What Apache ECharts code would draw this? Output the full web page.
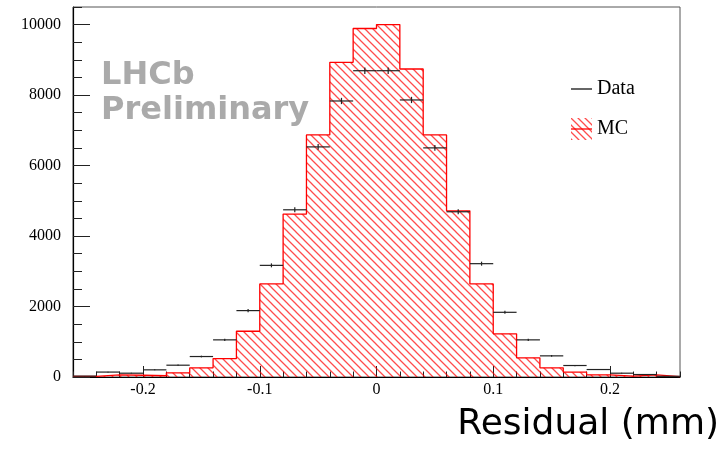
<!DOCTYPE html>
<html>
<head>
<meta charset="utf-8">
<script src="https://cdn.jsdelivr.net/npm/echarts@6.0.0/dist/echarts.min.js"></script>
<style>
  html, body { margin: 0; padding: 0; background: #fff; }
  #chart-container { width: 725px; height: 457px; }
</style>
</head>
<body>
<div id="chart-container"></div>
<script>
// bin lower edges (mm), bin width 0.02
var binLow = [-0.26, -0.24, -0.22, -0.20, -0.18, -0.16, -0.14, -0.12, -0.10, -0.08, -0.06, -0.04, -0.02,
              0.00, 0.02, 0.04, 0.06, 0.08, 0.10, 0.12, 0.14, 0.16, 0.18, 0.20, 0.22, 0.24];
var binWidth = 0.02;
var mcCounts = [15, 60, 50, 35, 118, 260, 524, 1298, 2640, 4624, 6870, 8930, 9890,
                10000, 8740, 6870, 4717, 2640, 1224, 544, 260, 136, 62, 25, 60, 10];
var dataCounts = [25, 140, 108, 203, 335, 581, 1054, 1884, 3168, 4745, 6530, 7833, 8692,
                  8692, 7862, 6502, 4689, 3216, 1836, 1054, 600, 326, 212, 108, 70, 20];
var dataErrors = [5, 12, 10, 14, 18, 24, 32, 43, 56, 69, 81, 89, 93,
                  93, 89, 81, 68, 57, 43, 32, 24, 18, 15, 10, 8, 4];
var xMajorTicks = [-0.2, -0.1, 0, 0.1, 0.2];
var yMajorTicks = [0, 2000, 4000, 6000, 8000, 10000];

var dom = document.getElementById('chart-container');
var myChart = echarts.init(dom, null, { renderer: 'canvas' });

// hatch pattern for the MC fill
function makeHatch(size) {
    var c = document.createElement('canvas');
    c.width = size; c.height = size;
    var ctx = c.getContext('2d');
    ctx.strokeStyle = 'rgba(255,0,0,0.7)';
    ctx.lineWidth = 1.3;
    ctx.beginPath();
    ctx.moveTo(-1, -1); ctx.lineTo(size + 1, size + 1);
    ctx.moveTo(-1, size - 1); ctx.lineTo(1, size + 1);
    ctx.moveTo(size - 1, -1); ctx.lineTo(size + 1, 1);
    ctx.stroke();
    return c;
}

// legend icons
function makeMcIcon() {
    var c = document.createElement('canvas');
    c.width = 21; c.height = 22;
    var ctx = c.getContext('2d');
    ctx.fillStyle = ctx.createPattern(makeHatch(7), 'repeat');
    ctx.fillRect(0, 0, 21, 22);
    ctx.strokeStyle = '#ff0000';
    ctx.lineWidth = 1.3;
    ctx.beginPath(); ctx.moveTo(0, 11); ctx.lineTo(21, 11); ctx.stroke();
    return c.toDataURL();
}
function makeDataIcon() {
    var c = document.createElement('canvas');
    c.width = 21; c.height = 22;
    var ctx = c.getContext('2d');
    ctx.strokeStyle = '#000';
    ctx.lineWidth = 1.2;
    ctx.beginPath(); ctx.moveTo(0, 11); ctx.lineTo(21, 11); ctx.stroke();
    return c.toDataURL();
}

var mcLine = binLow.map(function (x, i) { return [x, mcCounts[i]]; });
mcLine.push([binLow[binLow.length - 1] + binWidth, mcCounts[mcCounts.length - 1]]);

var dataPoints = binLow.map(function (x, i) {
    return [x, x + binWidth, dataCounts[i], dataErrors[i]];
});

var serif = 'Liberation Serif';
var tickColor = '#222';

var option = {
    animation: false,
    title: [
        {
            text: 'LHCb\nPreliminary',
            left: 101, top: 58, padding: 0,
            textStyle: { fontFamily: 'DejaVu Sans', fontWeight: 'bold', fontSize: 32, lineHeight: 35, color: '#aaaaaa' }
        },
        {
            text: 'Residual (mm)',
            right: 6, top: 405, padding: 0,
            textStyle: { fontFamily: 'DejaVu Sans', fontWeight: 'normal', fontSize: 36, lineHeight: 40, color: '#000' }
        }
    ],
    legend: {
        orient: 'vertical',
        left: 571, top: 78, padding: 0,
        itemWidth: 21, itemHeight: 22, itemGap: 18,
        selectedMode: false,
        textStyle: { fontFamily: serif, fontSize: 20, color: '#000' },
        data: [
            { name: 'Data', icon: 'image://' + makeDataIcon() },
            { name: 'MC', icon: 'image://' + makeMcIcon() }
        ]
    },
    grid: {
        left: 73, right: 45, top: 7, bottom: 80,
        show: true, borderColor: '#555', borderWidth: 1
    },
    xAxis: [
        {
            type: 'value', min: -0.26, max: 0.26,
            axisLine: { onZero: false, lineStyle: { color: '#000', width: 1.2 } },
            axisTick: { inside: true, length: 11, customValues: xMajorTicks, lineStyle: { color: tickColor } },
            axisLabel: {
                customValues: xMajorTicks, margin: 5,
                fontFamily: serif, fontSize: 16, color: '#000',
                formatter: function (v) { return String(Math.round(v * 10) / 10); }
            },
            splitLine: { show: false }
        },
        {
            type: 'value', min: -0.26, max: 0.26, interval: 0.02, position: 'bottom',
            axisLine: { show: false, onZero: false },
            axisTick: { inside: true, length: 5.5, lineStyle: { color: tickColor } },
            axisLabel: { show: false },
            splitLine: { show: false }
        }
    ],
    yAxis: [
        {
            type: 'value', min: 0, max: 10500, position: 'left',
            axisLine: { show: true, onZero: false, lineStyle: { color: '#000', width: 1.2 } },
            axisTick: { show: true, inside: true, length: 17, customValues: yMajorTicks, lineStyle: { color: tickColor } },
            axisLabel: {
                customValues: yMajorTicks, margin: 12, fontFamily: serif, fontSize: 16, color: '#000',
                formatter: function (v) { return String(v); }
            },
            splitLine: { show: false }
        },
        {
            type: 'value', min: 0, max: 10500, interval: 500, position: 'left',
            axisLine: { show: false, onZero: false },
            axisTick: { show: true, inside: true, length: 9, lineStyle: { color: tickColor } },
            axisLabel: { show: false },
            splitLine: { show: false }
        }
    ],
    series: [
        {
            name: 'MC',
            type: 'line',
            step: 'end',
            symbol: 'none',
            data: mcLine,
            lineStyle: { color: '#ff0000', width: 1.3 },
            itemStyle: { color: '#ff0000' },
            areaStyle: { color: { image: makeHatch(8), repeat: 'repeat' }, opacity: 1 },
            z: 2
        },
        {
            name: 'Data',
            type: 'custom',
            data: dataPoints,
            encode: { x: [0, 1], y: 2 },
            itemStyle: { color: '#000' },
            z: 3,
            renderItem: function (params, api) {
                var left = api.coord([api.value(0), api.value(2)]);
                var right = api.coord([api.value(1), api.value(2)]);
                var mid = (api.value(0) + api.value(1)) / 2;
                var hi = api.coord([mid, api.value(2) + api.value(3)]);
                var lo = api.coord([mid, api.value(2) - api.value(3)]);
                var style = { stroke: '#222', lineWidth: 1.2 };
                return {
                    type: 'group',
                    children: [
                        { type: 'line', shape: { x1: left[0], y1: left[1], x2: right[0], y2: right[1] }, style: style },
                        { type: 'line', shape: { x1: hi[0], y1: hi[1], x2: lo[0], y2: lo[1] }, style: style }
                    ]
                };
            }
        }
    ]
};

myChart.setOption(option);

window.addEventListener('resize', function () {
    myChart.resize();
});
</script>
</body>
</html>
